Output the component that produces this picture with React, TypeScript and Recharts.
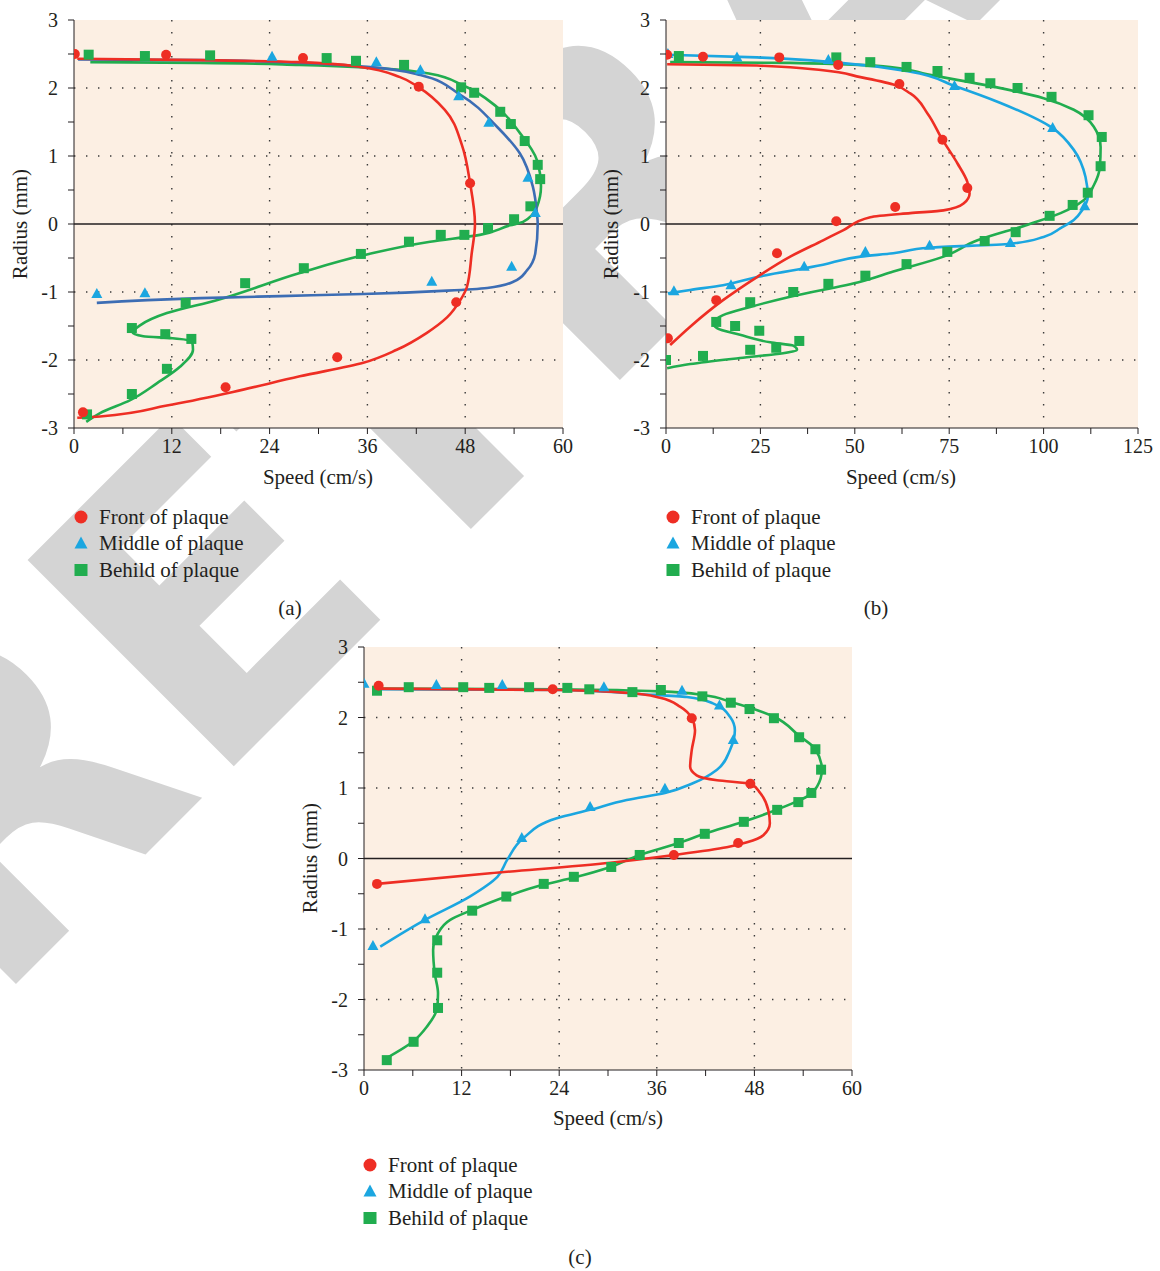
import { ComposedChart, Line, Scatter, XAxis, YAxis, CartesianGrid, ReferenceLine } from 'recharts'

type Pt = { x: number; y: number }

const RED = '#ee2e24'
const SKY = '#1ba6e0'
const NAVY = '#3c6db4'
const GREEN = '#21ad4f'
const INK = '#231f20'
const PAPER = '#fcefe3'
const SERIF = 'Liberation Serif'

const SERIES_NAMES = ['Front of plaque', 'Middle of plaque', 'Behild of plaque']
const Y_TICKS = [-3, -2.5, -2, -1.5, -1, -0.5, 0, 0.5, 1, 1.5, 2, 2.5, 3]
const Y_GRID = [-2, -1, 1, 2]
const X_TICKS_60 = [0, 6, 12, 18, 24, 30, 36, 42, 48, 54, 60]
const X_GRID_60 = [12, 24, 36, 48]
const X_TICKS_125 = [0, 12.5, 25, 37.5, 50, 62.5, 75, 87.5, 100, 112.5, 125]
const X_GRID_125 = [25, 50, 75, 100]

// (a) measured points and fitted curves (speed cm/s, radius mm)
const aFront: Pt[] = [
  { x: 0.1, y: 2.5 }, { x: 11.3, y: 2.49 }, { x: 28.1, y: 2.44 }, { x: 42.3, y: 2.02 }, { x: 48.6, y: 0.6 },
  { x: 46.9, y: -1.15 }, { x: 32.3, y: -1.96 }, { x: 18.6, y: -2.4 }, { x: 1.1, y: -2.77 },
]
const aFrontFit: Pt[] = [
  { x: 0.4, y: 2.43 }, { x: 15.5, y: 2.41 }, { x: 27.7, y: 2.38 }, { x: 35.1, y: 2.31 }, { x: 40, y: 2.16 },
  { x: 42.3, y: 2.01 }, { x: 45.5, y: 1.68 }, { x: 47.6, y: 1.16 }, { x: 48.6, y: 0.6 }, { x: 49.2, y: 0 },
  { x: 48.8, y: -0.43 }, { x: 48.2, y: -0.93 }, { x: 47.4, y: -1.12 }, { x: 45.8, y: -1.37 }, { x: 43.3, y: -1.6 },
  { x: 39.6, y: -1.85 }, { x: 35.5, y: -2.04 }, { x: 27.7, y: -2.24 }, { x: 19.5, y: -2.47 }, { x: 11.4, y: -2.67 },
  { x: 3.2, y: -2.83 }, { x: 0.4, y: -2.85 },
]
const aMid: Pt[] = [
  { x: 24.3, y: 2.46 }, { x: 37.1, y: 2.38 }, { x: 42.5, y: 2.26 }, { x: 47.2, y: 1.88 }, { x: 50.9, y: 1.49 },
  { x: 55.7, y: 0.68 }, { x: 56.6, y: 0.16 }, { x: 53.7, y: -0.63 }, { x: 43.9, y: -0.85 }, { x: 8.7, y: -1.02 },
  { x: 2.8, y: -1.03 },
]
const aMidFit: Pt[] = [
  { x: 0.5, y: 2.42 }, { x: 15.5, y: 2.41 }, { x: 27.7, y: 2.37 }, { x: 36, y: 2.31 }, { x: 42.5, y: 2.19 },
  { x: 47.4, y: 1.9 }, { x: 51.9, y: 1.43 }, { x: 54.7, y: 1.04 }, { x: 56.3, y: 0.55 }, { x: 56.8, y: 0.16 },
  { x: 56.9, y: 0 }, { x: 56.6, y: -0.43 }, { x: 55.6, y: -0.68 }, { x: 53.9, y: -0.85 }, { x: 50.7, y: -0.94 },
  { x: 45.8, y: -0.98 }, { x: 35.5, y: -1.03 }, { x: 25.3, y: -1.06 }, { x: 15.5, y: -1.09 }, { x: 2.8, y: -1.16 },
]
const aBack: Pt[] = [
  { x: 1.8, y: 2.49 }, { x: 8.7, y: 2.47 }, { x: 16.7, y: 2.48 }, { x: 31, y: 2.44 }, { x: 34.6, y: 2.4 },
  { x: 40.5, y: 2.34 }, { x: 47.5, y: 2.01 }, { x: 49.1, y: 1.93 }, { x: 52.3, y: 1.65 }, { x: 53.6, y: 1.47 },
  { x: 55.3, y: 1.22 }, { x: 56.9, y: 0.87 }, { x: 57.2, y: 0.66 }, { x: 56, y: 0.26 }, { x: 54, y: 0.07 },
  { x: 50.8, y: -0.06 }, { x: 47.9, y: -0.16 }, { x: 45, y: -0.16 }, { x: 41.1, y: -0.26 }, { x: 35.2, y: -0.44 },
  { x: 28.2, y: -0.65 }, { x: 21, y: -0.87 }, { x: 13.7, y: -1.16 }, { x: 7.1, y: -1.53 }, { x: 11.2, y: -1.62 },
  { x: 14.4, y: -1.69 }, { x: 11.4, y: -2.13 }, { x: 7.1, y: -2.5 }, { x: 1.6, y: -2.8 },
]
const aBackFit: Pt[] = [
  { x: 2, y: 2.38 }, { x: 15.5, y: 2.37 }, { x: 27.7, y: 2.34 }, { x: 37.5, y: 2.29 }, { x: 43.7, y: 2.21 },
  { x: 47.7, y: 2.04 }, { x: 51.9, y: 1.72 }, { x: 54.7, y: 1.34 }, { x: 56.8, y: 0.94 }, { x: 57.3, y: 0.55 },
  { x: 56.8, y: 0.25 }, { x: 55.1, y: 0.03 }, { x: 53.5, y: -0.02 }, { x: 49.8, y: -0.16 }, { x: 43.7, y: -0.26 },
  { x: 35.5, y: -0.46 }, { x: 27.7, y: -0.72 }, { x: 17.5, y: -1.12 }, { x: 11.4, y: -1.31 }, { x: 8.1, y: -1.49 },
  { x: 7.2, y: -1.6 }, { x: 8.5, y: -1.65 }, { x: 12.1, y: -1.68 }, { x: 14.5, y: -1.73 }, { x: 14.6, y: -1.85 },
  { x: 13, y: -2.1 }, { x: 10.2, y: -2.34 }, { x: 6.9, y: -2.59 }, { x: 3.2, y: -2.78 }, { x: 1.5, y: -2.91 },
]

// (b)
const bFront: Pt[] = [
  { x: 0.3, y: 2.49 }, { x: 9.8, y: 2.46 }, { x: 30, y: 2.45 }, { x: 45.6, y: 2.34 }, { x: 61.8, y: 2.06 },
  { x: 73.2, y: 1.24 }, { x: 79.8, y: 0.53 }, { x: 60.7, y: 0.25 }, { x: 45.1, y: 0.04 }, { x: 29.4, y: -0.43 },
  { x: 13.3, y: -1.12 }, { x: 0.5, y: -1.68 },
]
const bFrontFit: Pt[] = [
  { x: 0.3, y: 2.35 }, { x: 24.1, y: 2.33 }, { x: 41.6, y: 2.26 }, { x: 51.5, y: 2.16 }, { x: 60.2, y: 2.05 },
  { x: 64.7, y: 1.92 }, { x: 69.2, y: 1.63 }, { x: 73.2, y: 1.24 }, { x: 77.2, y: 0.89 }, { x: 79.8, y: 0.62 },
  { x: 80.4, y: 0.45 }, { x: 78.8, y: 0.3 }, { x: 73.5, y: 0.2 }, { x: 64.7, y: 0.16 }, { x: 54.1, y: 0.1 },
  { x: 47, y: -0.09 }, { x: 41.6, y: -0.24 }, { x: 32.9, y: -0.48 }, { x: 24.1, y: -0.78 }, { x: 15.1, y: -1.12 },
  { x: 6.4, y: -1.51 }, { x: 1.1, y: -1.78 },
]
const bMid: Pt[] = [
  { x: 0.5, y: 2.5 }, { x: 18.8, y: 2.45 }, { x: 43, y: 2.41 }, { x: 76.4, y: 2.03 }, { x: 102.4, y: 1.41 },
  { x: 110.9, y: 0.26 }, { x: 91.2, y: -0.28 }, { x: 69.8, y: -0.32 }, { x: 52.8, y: -0.41 }, { x: 36.6, y: -0.63 },
  { x: 17.2, y: -0.9 }, { x: 2.1, y: -0.99 },
]
const bMidFit: Pt[] = [
  { x: 0.3, y: 2.49 }, { x: 24.1, y: 2.45 }, { x: 46.2, y: 2.37 }, { x: 64.7, y: 2.24 }, { x: 76.4, y: 2.03 },
  { x: 88.6, y: 1.78 }, { x: 102.4, y: 1.41 }, { x: 108, y: 1.09 }, { x: 111.1, y: 0.69 }, { x: 111.7, y: 0.4 },
  { x: 110.3, y: 0.21 }, { x: 108, y: 0.06 }, { x: 104.5, y: -0.06 }, { x: 100, y: -0.19 }, { x: 91.2, y: -0.29 },
  { x: 69.8, y: -0.35 }, { x: 60.2, y: -0.43 }, { x: 51.5, y: -0.48 }, { x: 41.6, y: -0.6 }, { x: 24.1, y: -0.78 },
  { x: 15.1, y: -0.9 }, { x: 6.4, y: -0.97 }, { x: 0.5, y: -1.02 },
]
const bBack: Pt[] = [
  { x: 3.4, y: 2.47 }, { x: 45.1, y: 2.45 }, { x: 54.1, y: 2.38 }, { x: 63.7, y: 2.31 }, { x: 71.9, y: 2.25 },
  { x: 80.4, y: 2.15 }, { x: 85.9, y: 2.07 }, { x: 93.1, y: 2 }, { x: 102.1, y: 1.87 }, { x: 111.9, y: 1.6 },
  { x: 115.4, y: 1.28 }, { x: 115.1, y: 0.85 }, { x: 111.7, y: 0.46 }, { x: 107.7, y: 0.28 }, { x: 101.6, y: 0.12 },
  { x: 92.6, y: -0.12 }, { x: 84.4, y: -0.25 }, { x: 74.5, y: -0.41 }, { x: 63.7, y: -0.59 }, { x: 52.8, y: -0.76 },
  { x: 43, y: -0.88 }, { x: 33.7, y: -1 }, { x: 22.3, y: -1.15 }, { x: 13.3, y: -1.44 }, { x: 18.3, y: -1.5 },
  { x: 24.7, y: -1.57 }, { x: 35.3, y: -1.72 }, { x: 29.2, y: -1.82 }, { x: 22.3, y: -1.85 }, { x: 9.8, y: -1.94 },
  { x: 0, y: -2 },
]
const bBackFit: Pt[] = [
  { x: 1.1, y: 2.38 }, { x: 32.9, y: 2.37 }, { x: 59.4, y: 2.31 }, { x: 69.2, y: 2.2 }, { x: 86.7, y: 2.02 },
  { x: 100, y: 1.85 }, { x: 108, y: 1.68 }, { x: 113.3, y: 1.43 }, { x: 115.1, y: 1.13 }, { x: 114.9, y: 0.84 },
  { x: 113.3, y: 0.57 }, { x: 110.6, y: 0.35 }, { x: 104.5, y: 0.16 }, { x: 95.8, y: -0.01 }, { x: 82.5, y: -0.24 },
  { x: 73.5, y: -0.48 }, { x: 60.2, y: -0.7 }, { x: 51.5, y: -0.85 }, { x: 32.9, y: -1.07 }, { x: 22.3, y: -1.22 },
  { x: 15.1, y: -1.34 }, { x: 12.5, y: -1.46 }, { x: 13.5, y: -1.53 }, { x: 19.6, y: -1.63 }, { x: 27.6, y: -1.74 },
  { x: 33.7, y: -1.79 }, { x: 34.7, y: -1.85 }, { x: 31, y: -1.9 }, { x: 19.6, y: -1.97 }, { x: 6.4, y: -2.06 },
  { x: 0.3, y: -2.12 },
]

// (c)
const cFront: Pt[] = [
  { x: 1.8, y: 2.45 }, { x: 23.2, y: 2.4 }, { x: 40.3, y: 1.99 }, { x: 47.5, y: 1.06 }, { x: 46, y: 0.22 },
  { x: 38.1, y: 0.05 }, { x: 1.6, y: -0.36 },
]
const cFrontFit: Pt[] = [
  { x: 1.8, y: 2.41 }, { x: 24.1, y: 2.39 }, { x: 32.3, y: 2.35 }, { x: 36.4, y: 2.28 }, { x: 38.9, y: 2.15 },
  { x: 40.3, y: 1.99 }, { x: 40.7, y: 1.82 }, { x: 40.3, y: 1.54 }, { x: 40.1, y: 1.3 }, { x: 40.9, y: 1.18 },
  { x: 43.4, y: 1.11 }, { x: 47.5, y: 1.06 }, { x: 48.7, y: 0.93 }, { x: 49.7, y: 0.69 }, { x: 49.9, y: 0.5 },
  { x: 49.1, y: 0.33 }, { x: 47.1, y: 0.23 }, { x: 44.6, y: 0.16 }, { x: 38.1, y: 0.05 }, { x: 30.3, y: -0.06 },
  { x: 15.5, y: -0.21 }, { x: 1.6, y: -0.36 },
]
const cMid: Pt[] = [
  { x: 0, y: 2.48 }, { x: 8.9, y: 2.46 }, { x: 17, y: 2.46 }, { x: 29.5, y: 2.43 }, { x: 39.1, y: 2.38 },
  { x: 43.7, y: 2.17 }, { x: 45.4, y: 1.68 }, { x: 37, y: 0.99 }, { x: 27.8, y: 0.73 }, { x: 19.4, y: 0.29 },
  { x: 7.5, y: -0.86 }, { x: 1.1, y: -1.24 },
]
const cMidFit: Pt[] = [
  { x: 1.1, y: 2.4 }, { x: 24.1, y: 2.39 }, { x: 34.3, y: 2.33 }, { x: 39.7, y: 2.29 }, { x: 42.9, y: 2.2 },
  { x: 45, y: 2.01 }, { x: 45.6, y: 1.82 }, { x: 45, y: 1.54 }, { x: 43.4, y: 1.26 }, { x: 40.5, y: 1.07 },
  { x: 37, y: 0.93 }, { x: 32.3, y: 0.83 }, { x: 27.8, y: 0.69 }, { x: 23.7, y: 0.57 }, { x: 19.6, y: 0.29 },
  { x: 17.6, y: -0.02 }, { x: 16.4, y: -0.26 }, { x: 13, y: -0.54 }, { x: 7.5, y: -0.87 }, { x: 2, y: -1.25 },
]
const cBack: Pt[] = [
  { x: 1.6, y: 2.38 }, { x: 5.5, y: 2.43 }, { x: 12.2, y: 2.43 }, { x: 15.4, y: 2.42 }, { x: 20.3, y: 2.43 },
  { x: 25, y: 2.42 }, { x: 27.7, y: 2.4 }, { x: 33, y: 2.36 }, { x: 36.5, y: 2.39 }, { x: 41.6, y: 2.3 },
  { x: 45.1, y: 2.21 }, { x: 47.4, y: 2.12 }, { x: 50.4, y: 1.99 }, { x: 53.5, y: 1.72 }, { x: 55.5, y: 1.55 },
  { x: 56.2, y: 1.26 }, { x: 55, y: 0.93 }, { x: 53.4, y: 0.8 }, { x: 50.8, y: 0.69 }, { x: 46.7, y: 0.52 },
  { x: 41.9, y: 0.35 }, { x: 38.7, y: 0.22 }, { x: 33.9, y: 0.05 }, { x: 30.4, y: -0.12 }, { x: 25.8, y: -0.26 },
  { x: 22.1, y: -0.36 }, { x: 17.5, y: -0.54 }, { x: 13.3, y: -0.74 }, { x: 9, y: -1.16 }, { x: 9, y: -1.62 },
  { x: 9.1, y: -2.12 }, { x: 6.1, y: -2.6 }, { x: 2.8, y: -2.86 },
]
const cBackFit: Pt[] = [
  { x: 1.1, y: 2.41 }, { x: 24.1, y: 2.4 }, { x: 36.4, y: 2.37 }, { x: 41.7, y: 2.32 }, { x: 45.1, y: 2.22 },
  { x: 50.4, y: 2.01 }, { x: 53.5, y: 1.74 }, { x: 55.5, y: 1.55 }, { x: 56.3, y: 1.26 }, { x: 55.7, y: 1.02 },
  { x: 54.5, y: 0.88 }, { x: 52, y: 0.75 }, { x: 46.6, y: 0.52 }, { x: 41.9, y: 0.35 }, { x: 38.7, y: 0.22 },
  { x: 33.9, y: 0.05 }, { x: 30.3, y: -0.12 }, { x: 25.8, y: -0.27 }, { x: 22.1, y: -0.37 }, { x: 17.5, y: -0.54 },
  { x: 13.3, y: -0.73 }, { x: 10.6, y: -0.87 }, { x: 9.1, y: -1.06 }, { x: 8.5, y: -1.3 }, { x: 8.7, y: -1.63 },
  { x: 9.1, y: -1.91 }, { x: 9, y: -2.12 }, { x: 7.7, y: -2.39 }, { x: 6.1, y: -2.59 }, { x: 2.8, y: -2.83 },
]

const circleShape = (p: any) => <circle cx={p.cx} cy={p.cy} r={5} fill={RED} />
const triangleShape = (p: any) => (
  <path d={`M${p.cx},${p.cy - 6}L${p.cx + 5.5},${p.cy + 4}L${p.cx - 5.5},${p.cy + 4}Z`} fill={SKY} />
)
const squareShape = (p: any) => <rect x={p.cx - 5} y={p.cy - 5} width={10} height={10} fill={GREEN} />

const tickStyle = { fontSize: 20, fontFamily: SERIF, fill: INK }

interface PanelProps {
  left: number
  top: number
  plotW: number
  plotH: number
  xMax: number
  xTicks: number[]
  xMajor: number
  xGrid: number[]
  midColor: string
  front: Pt[]
  frontFit: Pt[]
  mid: Pt[]
  midFit: Pt[]
  back: Pt[]
  backFit: Pt[]
}

function Panel(p: PanelProps) {
  const topTicks = Array.from({ length: 41 }, (_, i) => (p.xMax / 40) * i)
  const rightTicks = Array.from({ length: 25 }, (_, i) => -3 + i * 0.25)
  const lineProps = { dataKey: 'y', type: 'monotoneY' as const, strokeWidth: 2.6, dot: false, activeDot: false, isAnimationActive: false }
  return (
    <div style={{ position: 'absolute', left: p.left, top: p.top }}>
      <ComposedChart width={74 + p.plotW + 22} height={20 + p.plotH + 32} margin={{ top: 20, right: 22, bottom: 0, left: 0 }}>
        <CartesianGrid
          fill={PAPER}
          fillOpacity={1}
          stroke="#3a3a3a"
          strokeWidth={1.4}
          strokeDasharray="1.4 10.6"
          horizontalValues={Y_GRID}
          verticalValues={p.xGrid}
        />
        <XAxis
          dataKey="x"
          type="number"
          domain={[0, p.xMax]}
          ticks={p.xTicks}
          interval={0}
          allowDataOverflow
          height={32}
          tickSize={6}
          tickMargin={5}
          stroke={INK}
          tick={tickStyle}
          tickFormatter={(v: number) => (v % p.xMajor === 0 ? String(v) : '')}
        />
        <XAxis
          xAxisId="top"
          orientation="top"
          type="number"
          domain={[0, p.xMax]}
          ticks={topTicks}
          interval={0}
          mirror
          height={0}
          tickSize={3}
          stroke={INK}
          tickFormatter={() => ''}
        />
        <YAxis
          dataKey="y"
          type="number"
          domain={[-3, 3]}
          ticks={Y_TICKS}
          interval={0}
          allowDataOverflow
          width={74}
          tickSize={6}
          tickMargin={10}
          stroke={INK}
          tick={tickStyle}
          tickFormatter={(v: number) => (Number.isInteger(v) ? String(v) : '')}
        />
        <YAxis
          yAxisId="right"
          orientation="right"
          type="number"
          domain={[-3, 3]}
          ticks={rightTicks}
          interval={0}
          mirror
          width={0}
          tickSize={3}
          stroke={INK}
          tickFormatter={() => ''}
        />
        <ReferenceLine y={0} stroke={INK} strokeWidth={1.3} />
        <Line data={p.backFit} stroke={GREEN} {...lineProps} />
        <Line data={p.midFit} stroke={p.midColor} {...lineProps} />
        <Line data={p.frontFit} stroke={RED} {...lineProps} />
        <Scatter data={p.back} shape={squareShape} isAnimationActive={false} />
        <Scatter data={p.mid} shape={triangleShape} isAnimationActive={false} />
        <Scatter data={p.front} shape={circleShape} isAnimationActive={false} />
      </ComposedChart>
    </div>
  )
}

function LegendBlock({ x, y }: { x: number; y: number }) {
  const gap = 26.5
  return (
    <g>
      <circle cx={x} cy={y} r={6.5} fill={RED} />
      <path d={`M${x},${y + gap - 7}L${x + 6.5},${y + gap + 5}L${x - 6.5},${y + gap + 5}Z`} fill={SKY} />
      <rect x={x - 6.5} y={y + 2 * gap - 6} width={13} height={12} fill={GREEN} />
      {SERIES_NAMES.map((name, i) => (
        <text key={name} x={x + 18} y={y + i * gap + 6.5} fontSize={21} fontFamily={SERIF} fill={INK}>
          {name}
        </text>
      ))}
    </g>
  )
}

function Labels() {
  const t = { fontSize: 21, fontFamily: SERIF, fill: INK, textAnchor: 'middle' as const }
  return (
    <svg width={1160} height={1271} style={{ position: 'absolute', left: 0, top: 0 }}>
      <text
        x={0}
        y={0}
        transform="translate(-10,1010) rotate(-45)"
        fontSize={400}
        fontWeight="bold"
        fontFamily="DejaVu Sans"
        fill="#d4d4d4"
      >
        RETRACTED
      </text>
      <text {...t} transform="translate(27,224) rotate(-90)">Radius (mm)</text>
      <text {...t} transform="translate(618,224) rotate(-90)">Radius (mm)</text>
      <text {...t} transform="translate(317,858) rotate(-90)">Radius (mm)</text>
      <text {...t} x={318} y={484}>Speed (cm/s)</text>
      <text {...t} x={901} y={484}>Speed (cm/s)</text>
      <text {...t} x={608} y={1125}>Speed (cm/s)</text>
      <LegendBlock x={81} y={517} />
      <LegendBlock x={673} y={517} />
      <LegendBlock x={370} y={1165} />
      <text {...t} x={290} y={615}>(a)</text>
      <text {...t} x={876} y={615}>(b)</text>
      <text {...t} x={580} y={1264}>(c)</text>
    </svg>
  )
}

export default function App() {
  return (
    <div style={{ position: 'absolute', left: 0, top: 0, width: 1160, height: 1271, background: '#fff' }}>
      <Labels />
      <Panel
        left={0} top={0} plotW={489} plotH={408} xMax={60} xTicks={X_TICKS_60} xMajor={12} xGrid={X_GRID_60}
        midColor={NAVY} front={aFront} frontFit={aFrontFit} mid={aMid} midFit={aMidFit} back={aBack} backFit={aBackFit}
      />
      <Panel
        left={592} top={0} plotW={472} plotH={408} xMax={125} xTicks={X_TICKS_125} xMajor={25} xGrid={X_GRID_125}
        midColor={SKY} front={bFront} frontFit={bFrontFit} mid={bMid} midFit={bMidFit} back={bBack} backFit={bBackFit}
      />
      <Panel
        left={290} top={627} plotW={488} plotH={423} xMax={60} xTicks={X_TICKS_60} xMajor={12} xGrid={X_GRID_60}
        midColor={SKY} front={cFront} frontFit={cFrontFit} mid={cMid} midFit={cMidFit} back={cBack} backFit={cBackFit}
      />
    </div>
  )
}
